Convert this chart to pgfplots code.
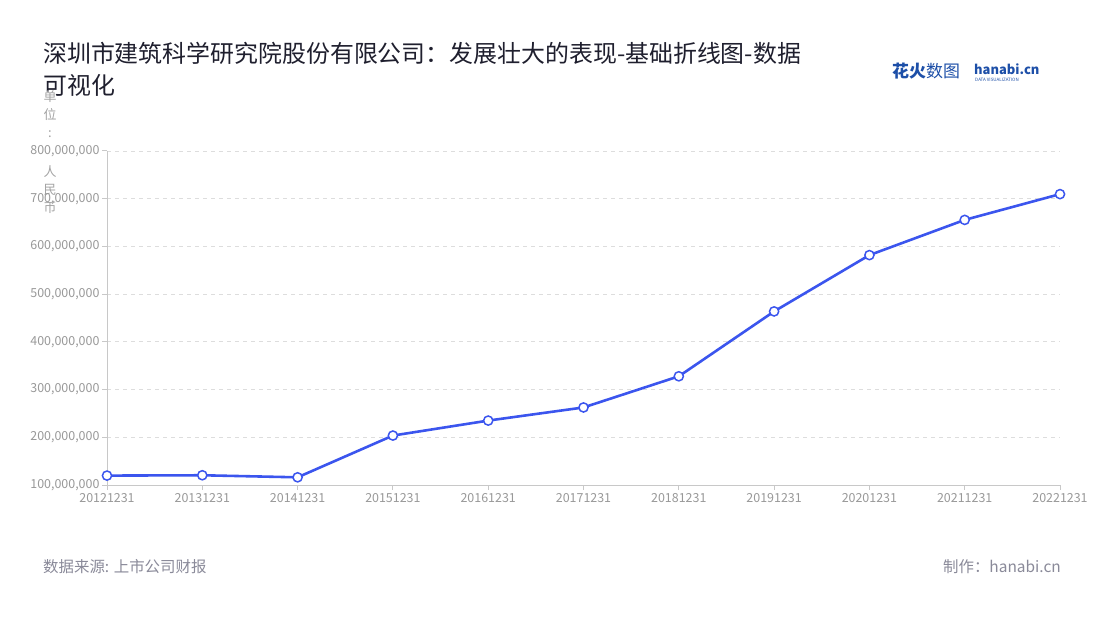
\documentclass[border=0pt]{standalone}
\usepackage{fontspec}
\setmainfont{Noto Sans CJK SC}
\usepackage{pgfplots}
\pgfplotsset{compat=1.18}
\definecolor{linec}{HTML}{3B55EE}
\definecolor{titlec}{HTML}{1F1F2E}
\definecolor{tickc}{HTML}{999999}
\definecolor{gridc}{HTML}{DDDDDD}
\definecolor{axisc}{HTML}{C8C8C8}
\definecolor{footc}{HTML}{8A8A99}
\definecolor{logoc}{HTML}{1D4FA8}
\pgfplotstableread{
x y
0 119700000
1 120400000
2 116100000
3 203600000
4 235000000
5 262500000
6 327800000
7 463800000
8 581800000
9 655600000
10 709600000
}\datatable
\begin{document}
\begin{tikzpicture}
\fill[white] (0bp,0bp) rectangle (1100bp,620bp);
% title
\node[anchor=base west, inner sep=0pt, text=titlec, font=\fontsize{24}{28}\selectfont] at (43bp,557bp) {深圳市建筑科学研究院股份有限公司：发展壮大的表现-基础折线图-数据};
\node[anchor=base west, inner sep=0pt, text=titlec, font=\fontsize{24}{28}\selectfont] at (43bp,525bp) {可视化};
% logo
\node[anchor=base west, inner sep=0pt, text=logoc, font=\fontsize{17}{20}\selectfont] at (892bp,542bp) {{\bfseries 花火}数图};
\node[anchor=base west, inner sep=0pt, text=logoc, font=\fontsize{13}{16}\selectfont\bfseries] at (974bp,545bp) {hanabi.cn};
\node[anchor=base west, inner sep=0pt, text=logoc, font=\fontsize{4.5}{5}\selectfont] at (975bp,538bp) {DATA VISUALIZATION};
% y unit label
\foreach \c/\yy in {单/97,位/115,:/134,人/172,民/190,币/208}{
  \node[anchor=center, inner sep=0pt, text=tickc!90, font=\fontsize{13}{14}\selectfont] at (50bp,620bp-\yy bp) {\c};
}
% footer
\node[anchor=base west, inner sep=0pt, text=footc, font=\fontsize{15.5}{18}\selectfont] at (43bp,47bp) {数据来源: 上市公司财报};
\node[anchor=base east, inner sep=0pt, text=footc, font=\fontsize{15.5}{18}\selectfont] at (1061bp,47bp) {制作：hanabi.cn};
\begin{axis}[
  at={(107bp,135bp)}, anchor=south west,
  scale only axis, width=953bp, height=334bp,
  xmin=0, xmax=10, ymin=100000000, ymax=800000000,
  xtick={0,...,10},
  xticklabels={20121231,20131231,20141231,20151231,20161231,20171231,20181231,20191231,20201231,20211231,20221231},
  ytick={100000000,200000000,300000000,400000000,500000000,600000000,700000000,800000000},
  scaled y ticks=false,
  yticklabel style={/pgf/number format/.cd, fixed, precision=0, 1000 sep={,}, assume math mode=true},
  xticklabel style={/pgf/number format/assume math mode=true},
  tick label style={text=tickc, font=\fontsize{12.5}{14}\selectfont},
  axis x line*=bottom, axis y line*=left,
  axis line style={axisc, line width=1pt},
  major tick style={axisc, line width=1pt},
  major tick length=5bp,
  tick align=outside,
  xtick pos=bottom, ytick pos=left,
  ymajorgrids, grid style={gridc, dashed, line width=0.8pt, dash pattern=on 4bp off 4bp},
  yticklabel shift=-1bp,
  clip=false,
]
\addplot[linec, line width=2.6pt, mark=*, mark size=4.6bp, mark options={fill=white, draw=linec, line width=1.5pt}] table[x=x,y=y] {\datatable};
\end{axis}
\end{tikzpicture}
\end{document}
